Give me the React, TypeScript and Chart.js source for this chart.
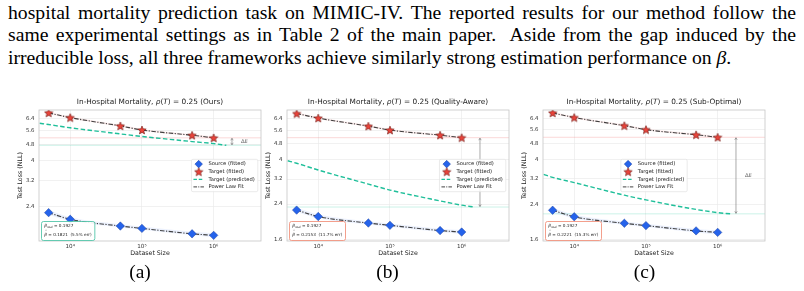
import React, { useEffect, useRef } from 'react';
import { Chart, registerables } from 'chart.js';

Chart.register(...registerables);

// Scaling runs: training-set sizes and fitted test losses (NLL)
const datasetSizes = [5e3, 1e4, 5e4, 1e5, 5e5, 1e6];
const sourceLoss = [2.24, 2.08, 1.93, 1.88, 1.77, 1.74];
const sourceBandLow = [2.19, 2.04, 1.9, 1.85, 1.74, 1.7];
const sourceBandHigh = [2.3, 2.13, 1.97, 1.92, 1.81, 1.78];
const targetLoss = [6.8, 6.45, 5.88, 5.62, 5.3, 5.15];
const targetBandLow = [6.72, 6.38, 5.82, 5.56, 5.24, 5.09];
const targetBandHigh = [6.89, 6.53, 5.95, 5.69, 5.37, 5.22];

// Target loss predicted from the source fit, one curve per framework
const predictedSizes = [3.75e3, 5e3, 1e4, 5e4, 1e5, 5e5, 1e6, 1.5e6];
const predictedOurs = [6.06, 5.97, 5.76, 5.38, 5.23, 4.94, 4.83, 4.74];
const predictedQualityAware = [3.95, 3.84, 3.55, 3.02, 2.82, 2.49, 2.37, 2.32];
const predictedSubOptimal = [3.37, 3.26, 3.07, 2.66, 2.52, 2.26, 2.18, 2.15];

const frameworkNames = ['Ours', 'Quality-Aware', 'Sub-Optimal'];
const panelCaptions = ['(a)', '(b)', '(c)'];
const rhoT = 0.25;
const betaReal = 0.1927;
const betaHat = [0.1821, 0.2153, 0.2221];

const yTickValues = [1.6, 2.4, 3.2, 4, 4.8, 5.6, 6.4];
const xTickValues = [1e4, 1e5, 1e6];
const xTickLabels = ['10⁴', '10⁵', '10⁶'];
const yRanges = [
  [1.634, 7.02],
  [1.57, 7.08],
  [1.577, 7.03],
];
const xRange = [3670, 4.57e6];

const paragraphLines = [
  'hospital mortality prediction task on MIMIC-IV. The reported results for our method follow the',
  'same experimental settings as in Table 2 of the main paper.\u00a0 Aside from the gap induced by the',
  'irreducible loss, all three frameworks achieve similarly strong estimation performance on ',
];

const predictedSeries = [predictedOurs, predictedQualityAware, predictedSubOptimal];

const FONT = '"DejaVu Sans", sans-serif';
const SOURCE_BLUE = '#2563eb';
const SOURCE_EDGE = '#1b3f9e';
const TARGET_RED = '#e8433a';
const TARGET_EDGE = '#6e1b16';
const PRED_TEAL = '#1fbf9a';
const FIT_DARK = 'rgba(40,40,40,0.88)';

const panelStyle = [
  { canvasLeft: 0, legend: 'right', boxColor: '#3fbf9f', deltaLabel: true },
  { canvasLeft: 248, legend: 'right', boxColor: '#f0866f', deltaLabel: false },
  { canvasLeft: 504, legend: 'center', boxColor: '#f0866f', deltaLabel: true },
];
const captionCenters = [140, 387.5, 644.5];

function makeStar(size: number) {
  const c = document.createElement('canvas');
  c.width = size;
  c.height = size;
  const g = c.getContext('2d')!;
  const cx = size / 2;
  const cy = size / 2 + 0.4;
  const R = size / 2 - 0.6;
  const r = R * 0.45;
  g.beginPath();
  for (let i = 0; i < 10; i++) {
    const a = -Math.PI / 2 + (i * Math.PI) / 5;
    const rad = i % 2 === 0 ? R : r;
    g.lineTo(cx + rad * Math.cos(a), cy + rad * Math.sin(a));
  }
  g.closePath();
  g.fillStyle = TARGET_RED;
  g.fill();
  g.lineWidth = 0.6;
  g.strokeStyle = TARGET_EDGE;
  g.stroke();
  return c;
}

type Part = { t: string; i?: boolean };

function drawParts(ctx: CanvasRenderingContext2D, parts: Part[], x0: number, cy: number, size: number, color: string, align: 'center' | 'left') {
  const fonts = parts.map((p) => `${p.i ? 'italic ' : ''}${size}px ${FONT}`);
  let total = 0;
  parts.forEach((p, k) => {
    ctx.font = fonts[k];
    total += ctx.measureText(p.t).width;
  });
  let x = align === 'center' ? x0 - total / 2 : x0;
  ctx.textBaseline = 'middle';
  ctx.textAlign = 'left';
  ctx.fillStyle = color;
  parts.forEach((p, k) => {
    ctx.font = fonts[k];
    ctx.fillText(p.t, x, cy);
    x += ctx.measureText(p.t).width;
  });
  return total;
}

function diamond(ctx: CanvasRenderingContext2D, x: number, y: number, r: number) {
  ctx.beginPath();
  ctx.moveTo(x - r, y);
  ctx.lineTo(x, y - r);
  ctx.lineTo(x + r, y);
  ctx.lineTo(x, y + r);
  ctx.closePath();
  ctx.fillStyle = SOURCE_BLUE;
  ctx.fill();
  ctx.lineWidth = 0.5;
  ctx.strokeStyle = SOURCE_EDGE;
  ctx.stroke();
}

function roundRect(ctx: CanvasRenderingContext2D, x: number, y: number, w: number, h: number, r: number) {
  ctx.beginPath();
  ctx.moveTo(x + r, y);
  ctx.lineTo(x + w - r, y);
  ctx.arcTo(x + w, y, x + w, y + r, r);
  ctx.lineTo(x + w, y + h - r);
  ctx.arcTo(x + w, y + h, x + w - r, y + h, r);
  ctx.lineTo(x + r, y + h);
  ctx.arcTo(x, y + h, x, y + h - r, r);
  ctx.lineTo(x, y + r);
  ctx.arcTo(x, y, x + r, y, r);
  ctx.closePath();
}

function decorPlugin(index: number, star: HTMLCanvasElement) {
  const predicted = predictedSeries[index];
  const style = panelStyle[index];
  return {
    id: 'panelDecor',
    beforeDatasetsDraw(chart: any) {
      const { ctx, chartArea: ca, scales } = chart;
      const yT = scales.y.getPixelForValue(targetLoss[targetLoss.length - 1]);
      const yP = scales.y.getPixelForValue(predicted[predicted.length - 1]);
      ctx.save();
      ctx.lineWidth = 0.8;
      ctx.strokeStyle = 'rgba(235, 90, 90, 0.3)';
      ctx.beginPath();
      ctx.moveTo(ca.left, yT);
      ctx.lineTo(ca.right, yT);
      ctx.stroke();
      ctx.strokeStyle = 'rgba(40, 200, 160, 0.3)';
      ctx.beginPath();
      ctx.moveTo(ca.left, yP);
      ctx.lineTo(ca.right, yP);
      ctx.stroke();
      ctx.restore();
    },
    afterDatasetsDraw(chart: any) {
      const { ctx, scales } = chart;
      const yT = scales.y.getPixelForValue(targetLoss[targetLoss.length - 1]);
      const yP = scales.y.getPixelForValue(predicted[predicted.length - 1]);
      const ax = scales.x.getPixelForValue(1.8e6);
      ctx.save();
      ctx.strokeStyle = '#707070';
      ctx.lineWidth = 0.6;
      ctx.beginPath();
      ctx.moveTo(ax, yT + 0.5);
      ctx.lineTo(ax, yP - 0.5);
      const h = 2;
      ctx.moveTo(ax - h * 0.6, yT + h + 0.5);
      ctx.lineTo(ax, yT + 0.5);
      ctx.lineTo(ax + h * 0.6, yT + h + 0.5);
      ctx.moveTo(ax - h * 0.6, yP - h - 0.5);
      ctx.lineTo(ax, yP - 0.5);
      ctx.lineTo(ax + h * 0.6, yP - h - 0.5);
      ctx.stroke();
      if (style.deltaLabel) {
        const tx = scales.x.getPixelForValue(2.4e6);
        drawParts(ctx, [{ t: 'Δ' }, { t: 'E', i: true }], tx, (yT + yP) / 2, 5.3, '#666', 'left');
      }
      ctx.restore();
    },
    afterDraw(chart: any) {
      const { ctx, chartArea: ca } = chart;
      const cx = (ca.left + ca.right) / 2;
      const cy = (ca.top + ca.bottom) / 2;
      ctx.save();
      // frame
      ctx.strokeStyle = '#c6c6c6';
      ctx.lineWidth = 0.8;
      ctx.strokeRect(ca.left, ca.top, ca.right - ca.left, ca.bottom - ca.top);

      // title
      drawParts(
        ctx,
        [
          { t: 'In-Hospital Mortality, ' },
          { t: 'ρ', i: true },
          { t: '(' },
          { t: 'T', i: true },
          { t: `) = ${rhoT} (${frameworkNames[index]})` },
        ],
        cx,
        ca.top - 7.5,
        7.35,
        '#222',
        'center'
      );

      // axis titles
      ctx.fillStyle = '#222';
      ctx.font = `6.3px ${FONT}`;
      ctx.textAlign = 'center';
      ctx.textBaseline = 'middle';
      ctx.fillText('Dataset Size', cx, ca.bottom + 12.5);
      ctx.save();
      ctx.translate(ca.left - 18.5, cy);
      ctx.rotate(-Math.PI / 2);
      ctx.fillText('Test Loss (NLL)', 0, 0);
      ctx.restore();

      // legend
      const labels = ['Source (fitted)', 'Target (fitted)', 'Target (predicted)', 'Power Law Fit'];
      ctx.font = `5.2px ${FONT}`;
      const tw = Math.max(...labels.map((l) => ctx.measureText(l).width));
      const bw = tw + 20;
      const bh = 32.4;
      const bx = style.legend === 'right' ? ca.right - 3.2 - bw : cx - bw / 2;
      const by = cy - bh / 2;
      roundRect(ctx, bx, by, bw, bh, 1.5);
      ctx.fillStyle = 'rgba(255,255,255,0.85)';
      ctx.fill();
      ctx.strokeStyle = '#dcdcdc';
      ctx.lineWidth = 0.6;
      ctx.stroke();
      labels.forEach((label, k) => {
        const ry = by + 4.8 + k * 7.6;
        const hl = bx + 2;
        const hr = bx + 12.5;
        const hm = (hl + hr) / 2;
        if (k === 0) diamond(ctx, hm, ry, 3.8);
        if (k === 1) ctx.drawImage(star, hm - star.width / 2, ry - star.height / 2);
        if (k === 2 || k === 3) {
          ctx.beginPath();
          ctx.setLineDash(k === 2 ? [3.5, 1.8] : [3.6, 1.2, 1, 1.2]);
          ctx.strokeStyle = k === 2 ? PRED_TEAL : FIT_DARK;
          ctx.lineWidth = k === 2 ? 1.2 : 1;
          ctx.moveTo(hl, ry);
          ctx.lineTo(hr, ry);
          ctx.stroke();
          ctx.setLineDash([]);
        }
        ctx.fillStyle = '#222';
        ctx.font = `5.2px ${FONT}`;
        ctx.textAlign = 'left';
        ctx.textBaseline = 'middle';
        ctx.fillText(label, bx + 17, ry);
      });

      // estimated exponent box
      const fs = 4.2;
      const err = ((Math.abs(betaHat[index] - betaReal) / betaReal) * 100).toFixed(1);
      const line2 = ` = ${betaHat[index].toFixed(4)}  (${err}% err)`;
      ctx.font = `${fs}px ${FONT}`;
      const w2 = ctx.measureText('β' + line2).width;
      const boxW = w2 + 6;
      const boxH = 19;
      const boxX = ca.left + 2.5;
      const boxY = ca.bottom - boxH - 0.5;
      roundRect(ctx, boxX, boxY, boxW, boxH, 2);
      ctx.fillStyle = 'rgba(255,255,255,0.92)';
      ctx.fill();
      ctx.strokeStyle = style.boxColor;
      ctx.lineWidth = 0.8;
      ctx.stroke();
      const tx = boxX + 2.8;
      const l1 = boxY + 4.8;
      const l2 = boxY + 13;
      ctx.fillStyle = '#222';
      ctx.textAlign = 'left';
      ctx.textBaseline = 'middle';
      ctx.font = `italic ${fs}px ${FONT}`;
      ctx.fillText('β', tx, l1);
      let px = tx + ctx.measureText('β').width;
      ctx.font = `italic ${fs * 0.7}px ${FONT}`;
      ctx.fillText('real', px, l1 + 1);
      px += ctx.measureText('real').width;
      ctx.font = `${fs}px ${FONT}`;
      ctx.fillText(` = ${betaReal.toFixed(4)}`, px, l1);
      ctx.font = `italic ${fs}px ${FONT}`;
      ctx.fillText('β', tx, l2);
      const bwid = ctx.measureText('β').width;
      ctx.font = `${fs}px ${FONT}`;
      ctx.textAlign = 'center';
      ctx.fillText('ˆ', tx + bwid / 2 + 0.4, l2 - 2.6);
      ctx.textAlign = 'left';
      ctx.fillText(line2, tx + bwid, l2);
      ctx.restore();
    },
  };
}

function Panel({ index }: { index: number }) {
  const ref = useRef<HTMLCanvasElement>(null);
  useEffect(() => {
    const canvas = ref.current;
    if (!canvas) return;
    const star = makeStar(10);
    const pts = (xs: number[], ys: number[]) => xs.map((v, i) => ({ x: v, y: ys[i] }));
    const [yMin, yMax] = yRanges[index];
    const chart = new Chart(canvas, {
      type: 'line',
      data: {
        datasets: [
          {
            label: 'source band low',
            data: pts(datasetSizes, sourceBandLow),
            borderWidth: 0,
            pointRadius: 0,
            fill: false,
            cubicInterpolationMode: 'monotone',
            order: 6,
          },
          {
            label: 'source band high',
            data: pts(datasetSizes, sourceBandHigh),
            borderWidth: 0,
            pointRadius: 0,
            fill: '-1',
            backgroundColor: 'rgba(70,120,235,0.10)',
            cubicInterpolationMode: 'monotone',
            order: 6,
          },
          {
            label: 'target band low',
            data: pts(datasetSizes, targetBandLow),
            borderWidth: 0,
            pointRadius: 0,
            fill: false,
            cubicInterpolationMode: 'monotone',
            order: 6,
          },
          {
            label: 'target band high',
            data: pts(datasetSizes, targetBandHigh),
            borderWidth: 0,
            pointRadius: 0,
            fill: '-1',
            backgroundColor: 'rgba(235,90,90,0.10)',
            cubicInterpolationMode: 'monotone',
            order: 6,
          },
          {
            label: 'Target (predicted)',
            data: pts(predictedSizes, predictedSeries[index]),
            borderColor: PRED_TEAL,
            borderWidth: 1.4,
            borderDash: [4.5, 2.4],
            pointRadius: 0,
            fill: false,
            cubicInterpolationMode: 'monotone',
            order: 3,
          },
          {
            label: 'Power Law Fit',
            data: pts(datasetSizes, sourceLoss),
            borderColor: FIT_DARK,
            borderWidth: 1.1,
            borderDash: [4.5, 1.5, 1.2, 1.5],
            pointRadius: 0,
            fill: false,
            cubicInterpolationMode: 'monotone',
            order: 2,
          },
          {
            label: 'Power Law Fit (target)',
            data: pts(datasetSizes, targetLoss),
            borderColor: FIT_DARK,
            borderWidth: 1.1,
            borderDash: [4.5, 1.5, 1.2, 1.5],
            pointRadius: 0,
            fill: false,
            cubicInterpolationMode: 'monotone',
            order: 2,
          },
          {
            label: 'Source (fitted)',
            data: pts(datasetSizes, sourceLoss),
            showLine: false,
            pointStyle: 'rectRot',
            pointRadius: 4.2,
            pointBackgroundColor: SOURCE_BLUE,
            pointBorderColor: SOURCE_EDGE,
            pointBorderWidth: 0.5,
            order: 1,
          },
          {
            label: 'Target (fitted)',
            data: pts(datasetSizes, targetLoss),
            showLine: false,
            pointStyle: star,
            pointRadius: 5,
            order: 0,
          },
        ],
      } as any,
      options: {
        animation: false,
        responsive: false,
        events: [],
        layout: { padding: { left: 0, right: 7, top: 20, bottom: 0 }, autoPadding: false },
        plugins: {
          legend: { display: false },
          tooltip: { enabled: false },
          title: { display: false },
        },
        scales: {
          x: {
            type: 'logarithmic',
            min: xRange[0],
            max: xRange[1],
            bounds: 'data',
            afterBuildTicks: (scale: any) => {
              scale.ticks = xTickValues.map((v) => ({ value: v }));
            },
            afterFit: (scale: any) => {
              scale.height = 24;
            },
            ticks: {
              autoSkip: false,
              maxRotation: 0,
              padding: 2.2,
              color: '#333',
              font: { family: FONT, size: 5.6 },
              callback: (v: any) => xTickLabels[xTickValues.indexOf(Number(v))] ?? '',
            },
            grid: { color: '#e8e8e8', lineWidth: 0.6, drawTicks: false },
            border: { display: false },
          },
          y: {
            type: 'logarithmic',
            min: yMin,
            max: yMax,
            bounds: 'data',
            afterBuildTicks: (scale: any) => {
              scale.ticks = yTickValues.filter((v) => v >= scale.min && v <= scale.max).map((v) => ({ value: v }));
            },
            afterFit: (scale: any) => {
              scale.width = 39;
            },
            ticks: {
              autoSkip: false,
              padding: 4.5,
              color: '#333',
              font: { family: FONT, size: 5.4 },
              callback: (v: any) => String(Number(v)),
            },
            grid: { color: '#e8e8e8', lineWidth: 0.6, drawTicks: false },
            border: { display: false },
          },
        },
      } as any,
      plugins: [decorPlugin(index, star)],
    });
    return () => chart.destroy();
  }, [index]);
  return (
    <canvas
      ref={ref}
      width={268}
      height={175}
      style={{ position: 'absolute', left: panelStyle[index].canvasLeft, top: 90, width: 268, height: 175 }}
    />
  );
}

const serif = '"Liberation Serif", "Times New Roman", serif';

export default function App() {
  return (
    <div style={{ position: 'fixed', left: 0, top: 0, width: 804, height: 291, background: '#fff', overflow: 'hidden' }}>
      <div
        style={{
          position: 'absolute',
          left: 8,
          top: 0.5,
          width: 788,
          fontFamily: serif,
          fontSize: 19.7,
          lineHeight: '22.5px',
          color: '#000',
        }}
      >
        <div style={{ textAlign: 'justify', textAlignLast: 'justify', whiteSpace: 'nowrap' }}>{paragraphLines[0]}</div>
        <div style={{ textAlign: 'justify', textAlignLast: 'justify', whiteSpace: 'nowrap' }}>{paragraphLines[1]}</div>
        <div style={{ whiteSpace: 'nowrap' }}>
          {paragraphLines[2]}
          <i>β</i>.
        </div>
      </div>
      {[0, 1, 2].map((i) => (
        <Panel key={i} index={i} />
      ))}
      {panelCaptions.map((c, i) => (
        <div
          key={c}
          style={{
            position: 'absolute',
            left: captionCenters[i] - 30,
            width: 60,
            top: 261,
            textAlign: 'center',
            fontFamily: serif,
            fontSize: 19.4,
            lineHeight: '22px',
            color: '#000',
          }}
        >
          {c}
        </div>
      ))}
    </div>
  );
}
